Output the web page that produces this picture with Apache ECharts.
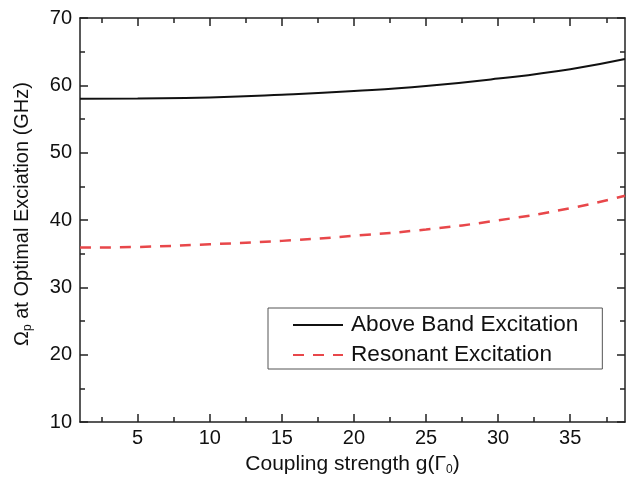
<!DOCTYPE html>
<html>
<head>
<meta charset="utf-8">
<script src="https://cdn.jsdelivr.net/npm/echarts@6.0.0/dist/echarts.min.js"></script>
<style>
  html, body { margin: 0; padding: 0; background: #fff; }
  #chart { width: 626px; height: 485px; }
</style>
</head>
<body>
<div id="chart"></div>
<script>
  // values
  const couplingG = [1, 5, 10, 15, 20, 25, 30, 35, 38.8];
  const aboveBand = [58.0, 58.05, 58.2, 58.6, 59.15, 59.9, 61.0, 62.4, 63.9];
  const resonant = [35.9, 36.0, 36.4, 36.9, 37.65, 38.6, 39.95, 41.75, 43.6];

  const xMajorTicks = [5, 10, 15, 20, 25, 30, 35];
  const xMinorTicks = [2.5, 7.5, 12.5, 17.5, 22.5, 27.5, 32.5, 37.5];
  const xMin = 1, xMax = 38.8;
  const yMin = 10, yMax = 70;

  const font = "'Liberation Sans', Arial, sans-serif";
  const axisColor = '#222';

  function pairs(xs, ys) {
    return xs.map((x, i) => [x, ys[i]]);
  }

  function xAxisDef(position, values, len, withLine, withLabels) {
    return {
      type: 'value',
      position: position,
      min: xMin,
      max: xMax,
      axisLine: { show: withLine, onZero: false, lineStyle: { color: axisColor, width: 1.5 } },
      axisTick: { show: true, inside: true, length: len, customValues: values,
        lineStyle: { color: axisColor, width: 1.5 } },
      axisLabel: { show: withLabels, customValues: xMajorTicks, margin: 6,
        color: '#111', fontSize: 20, fontFamily: font },
      splitLine: { show: false }
    };
  }

  function yAxisDef(position, withLabels) {
    return {
      type: 'value',
      position: position,
      min: yMin,
      max: yMax,
      interval: 10,
      axisLine: { show: true, onZero: false, lineStyle: { color: axisColor, width: 1.5 } },
      axisTick: { show: true, inside: true, length: 8, lineStyle: { color: axisColor, width: 1.5 } },
      minorTick: { show: true, splitNumber: 2, length: 5, lineStyle: { color: axisColor, width: 1.5 } },
      axisLabel: { show: withLabels, margin: 8, color: '#111', fontSize: 20, fontFamily: font },
      splitLine: { show: false }
    };
  }

  const chart = echarts.init(document.getElementById('chart'));

  const xMain = xAxisDef('bottom', xMajorTicks, 8, true, true);
  xMain.name = '{a|Coupling strength g(Γ}{s|0}{a|)}';
  xMain.nameLocation = 'middle';
  xMain.nameGap = 30;
  xMain.nameTextStyle = {
    rich: {
      a: { fontSize: 21, fontFamily: font, color: '#111', lineHeight: 24 },
      s: { fontSize: 12, fontFamily: font, color: '#111', lineHeight: 12, verticalAlign: 'bottom' }
    }
  };

  const yMain = yAxisDef('left', true);
  yMain.name = '{a|Ω}{s|p}{a| at Optimal Exciation (GHz)}';
  yMain.nameLocation = 'middle';
  yMain.nameGap = 46;
  yMain.nameTextStyle = {
    padding: [0, 0, 0, 12],
    rich: {
      a: { fontSize: 20, fontFamily: font, color: '#111', lineHeight: 24 },
      s: { fontSize: 12, fontFamily: font, color: '#111', lineHeight: 12, verticalAlign: 'bottom' }
    }
  };

  chart.setOption({
    animation: false,
    grid: { left: 80, right: 1, top: 18, bottom: 63, containLabel: false },
    xAxis: [
      xMain,
      xAxisDef('bottom', xMinorTicks, 5, false, false),
      xAxisDef('top', xMajorTicks, 8, true, false),
      xAxisDef('top', xMinorTicks, 5, false, false)
    ],
    yAxis: [
      yMain,
      yAxisDef('right', false)
    ],
    legend: {
      orient: 'vertical',
      left: 268,
      top: 308,
      padding: [5, 24, 2, 24],
      itemGap: 6,
      itemWidth: 50,
      itemHeight: 14,
      borderColor: '#555',
      borderWidth: 1,
      itemStyle: { opacity: 0 },
      textStyle: { fontSize: 22.6, fontFamily: font, color: '#111', lineHeight: 24,
        padding: [0, 0, 0, 3] },
      data: ['Above Band Excitation', 'Resonant Excitation']
    },
    series: [
      {
        name: 'Above Band Excitation',
        type: 'line',
        smooth: true,
        symbol: 'none',
        xAxisIndex: 0,
        yAxisIndex: 0,
        lineStyle: { color: '#111', width: 2 },
        itemStyle: { color: '#111' },
        data: pairs(couplingG, aboveBand)
      },
      {
        name: 'Resonant Excitation',
        type: 'line',
        smooth: true,
        symbol: 'none',
        xAxisIndex: 0,
        yAxisIndex: 0,
        lineStyle: { color: '#e8474a', width: 2.5, type: [11, 9] },
        itemStyle: { color: '#e8474a' },
        data: pairs(couplingG, resonant)
      }
    ]
  });
</script>
</body>
</html>
